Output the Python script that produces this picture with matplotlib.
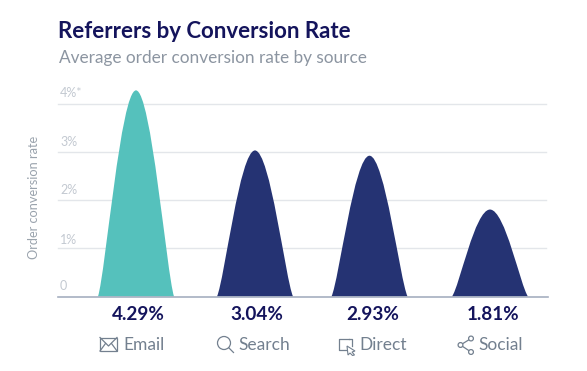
import matplotlib
matplotlib.use("Agg")
import matplotlib.pyplot as plt
from matplotlib.path import Path
from matplotlib.patches import PathPatch, Rectangle, Circle, Polygon

sources = ["Email", "Search", "Direct", "Social"]
rates = [4.29, 3.04, 2.93, 1.81]
rate_labels = ["4.29%", "3.04%", "2.93%", "1.81%"]
ticks = [0, 1, 2, 3, 4]
tick_labels = ["0", "1%", "2%", "3%", "4%*"]

W, H = 587, 371
NAVY = "#253373"
TEAL = "#55c1bc"
DARK = "#14145c"
GREY = "#73808f"
LIGHT = "#c3c9d1"

plt.rcParams["font.family"] = ["Lato", "DejaVu Sans"]

fig = plt.figure(figsize=(W / 100, H / 100), dpi=100, facecolor="white")

# axes placed in pixels: x runs in image pixels, y in percent
left, right, base, top = 58, 548, 296.5, 104.3
ax = fig.add_axes([left / W, (H - base) / H, (right - left) / W, (base - top) / H])
ax.set_xlim(left, right)
ax.set_ylim(0, 4)
ax.axis("off")

centers = [136, 255, 369.5, 490]
half_width = 38


def hump(cx, h, color):
    verts = [(cx - half_width, 0),
             (cx - 0.80 * half_width, 0.12 * h), (cx - 0.40 * half_width, h), (cx, h),
             (cx + 0.40 * half_width, h), (cx + 0.80 * half_width, 0.12 * h), (cx + half_width, 0),
             (cx - half_width, 0)]
    codes = [Path.MOVETO, Path.CURVE4, Path.CURVE4, Path.CURVE4,
             Path.CURVE4, Path.CURVE4, Path.CURVE4, Path.CLOSEPOLY]
    ax.add_patch(PathPatch(Path(verts, codes), fc=color, ec="none", clip_on=False, zorder=3))


for t in ticks[1:]:
    ax.plot([left, right - 2], [t, t], color="#e3e6ea", lw=1.0, clip_on=False, zorder=1)
ax.plot([left, right], [0, 0], color="#a6afc0", lw=1.2, clip_on=False, zorder=4)

for i, (c, r) in enumerate(zip(centers, rates)):
    hump(c, r, TEAL if i == 0 else NAVY)

# overlay in image pixels for the text and icons
ov = fig.add_axes([0, 0, 1, 1])
ov.set_xlim(0, W)
ov.set_ylim(H, 0)
ov.axis("off")
ov.patch.set_alpha(0)

ov.text(58, 31, "Referrers by Conversion Rate", fontsize=16.0, fontweight="bold", color=DARK, va="center")
ov.text(59, 58, "Average order conversion rate by source", fontsize=12.4, color="#8c95a1", va="center")
ov.text(33.5, 197, "Order conversion rate", fontsize=9.2, color="#9aa3ad", rotation=90, ha="center", va="center")

tick_y = [286, 240, 190, 142, 93]
for y, lab in zip(tick_y, tick_labels):
    ov.text(60, y, lab, fontsize=9, color=LIGHT, va="center")

label_x = [138, 257, 373, 493]
for x, lab in zip(label_x, rate_labels):
    ov.text(x, 315, lab, fontsize=13.6, fontweight="bold", color=DARK, ha="center", va="center")

name_x = [123, 238, 359, 478]
for x, lab in zip(name_x, sources):
    ov.text(x, 344.5, lab, fontsize=12.5, color=GREY, va="center")

ic = dict(fc="none", ec=GREY, lw=0.9)
# envelope
ov.add_patch(Rectangle((100, 337.5), 17, 13.5, **ic))
ov.plot([100, 108.5, 117], [337.5, 346, 337.5], color=GREY, lw=0.9)
ov.plot([100, 105.5], [351, 343.5], color=GREY, lw=0.9)
ov.plot([117, 111.5], [351, 343.5], color=GREY, lw=0.9)
# magnifier
ov.add_patch(Circle((224, 343), 6.5, **ic))
ov.plot([228.7, 233.5], [347.7, 352.5], color=GREY, lw=0.9)
# window and cursor
ov.plot([348, 338.5, 338.5, 349], [349.5, 349.5, 338.5, 338.5], color=GREY, lw=0.9)
ov.plot([349, 351.5, 351.5], [338.5, 338.5, 346], color=GREY, lw=0.9)
ov.add_patch(Polygon([(347, 346), (355, 351), (352, 352), (354.5, 355), (352.5, 355.5), (350, 353), (348, 355)],
                     closed=True, fc="white", ec=GREY, lw=0.8, zorder=5))
# share
px, py = [460.5, 471, 471], [345, 338.5, 352]
ov.plot([px[1], px[0], px[2]], [py[1], py[0], py[2]], color=GREY, lw=0.9)
for x, y in zip(px, py):
    ov.add_patch(Circle((x, y), 2.4, fc="white", ec=GREY, lw=0.9, zorder=5))

fig.savefig("out.png", dpi=100)
